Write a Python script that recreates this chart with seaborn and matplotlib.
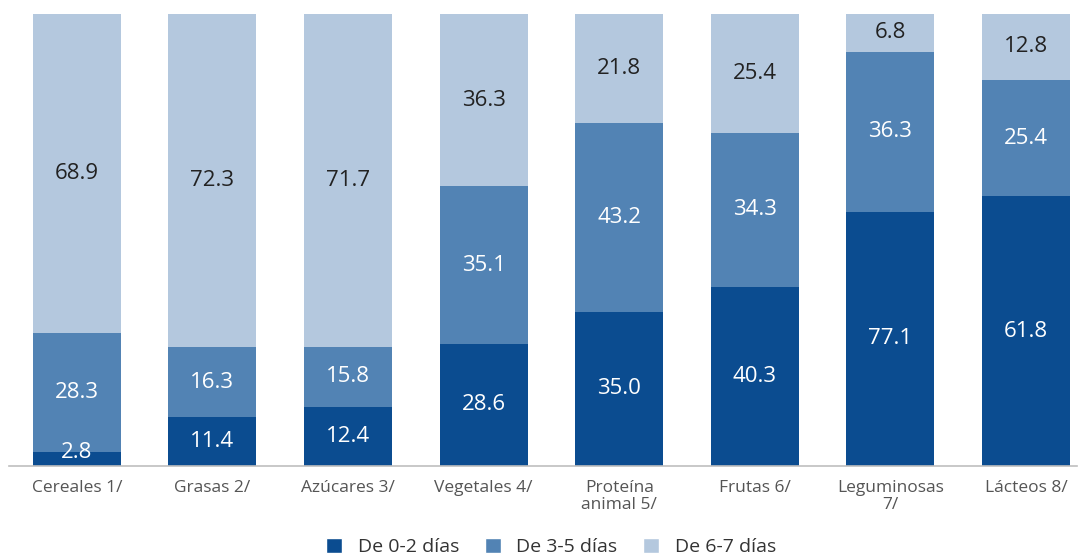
import numpy as np
import pandas as pd
import matplotlib
matplotlib.use("Agg")
import matplotlib.pyplot as plt
import seaborn as sns
from matplotlib.patches import Patch

# Data
categories = ["Cereales 1/", "Grasas 2/", "Azúcares 3/", "Vegetales 4/",
              "Proteína\nanimal 5/", "Frutas 6/", "Leguminosas\n7/", "Lácteos 8/"]
# segment sizes as drawn in the picture (% of bar height)
dias_0_2 = [3.1, 10.8, 13.1, 27.0, 34.1, 39.6, 56.2, 59.7]
dias_3_5 = [26.3, 15.5, 13.2, 34.9, 41.8, 34.1, 35.4, 25.7]
dias_6_7 = [70.6, 73.7, 73.7, 38.1, 24.1, 26.3, 8.4, 14.6]
# labels as printed on the bars
labels_0_2 = ["2.8", "11.4", "12.4", "28.6", "35.0", "40.3", "77.1", "61.8"]
labels_3_5 = ["28.3", "16.3", "15.8", "35.1", "43.2", "34.3", "36.3", "25.4"]
labels_6_7 = ["68.9", "72.3", "71.7", "36.3", "21.8", "25.4", "6.8", "12.8"]
series = ["De 0-2 días", "De 3-5 días", "De 6-7 días"]
colors = ["#0b4c90", "#5283b4", "#b4c8de"]

df = pd.DataFrame({"cat": categories, "a": dias_0_2, "b": dias_3_5, "c": dias_6_7})
df["ab"] = df["a"] + df["b"]
df["abc"] = df["ab"] + df["c"]

sns.set_style("white")
plt.rcParams["font.family"] = ["Open Sans", "DejaVu Sans"]

fig = plt.figure(figsize=(10.81, 5.56), dpi=100)
# slot width ~135.6 px, first slot starts at x=9; axis runs to x=1077
slot = 135.6
left_px, right_px = 9, 1077
ax = fig.add_axes([left_px / 1081, 90 / 556, (right_px - left_px) / 1081, 452 / 556])

# stacked by overlapping cumulative bars
for col, c in zip(["abc", "ab", "a"], colors[::-1]):
    sns.barplot(data=df, x="cat", y=col, color=c, width=0.65, saturation=1,
                linewidth=0, edgecolor="none", ax=ax)

for i in range(len(categories)):
    y_a = max(df["a"][i] / 2, 3.0)
    ax.text(i, y_a, labels_0_2[i], ha="center", va="center",
            color="white", fontsize=16)
    ax.text(i, df["a"][i] + df["b"][i] / 2, labels_3_5[i], ha="center", va="center",
            color="white", fontsize=16)
    ax.text(i, df["ab"][i] + df["c"][i] / 2, labels_6_7[i], ha="center", va="center",
            color="#222222", fontsize=16)

ax.set_xlim(-0.5, -0.5 + (right_px - left_px) / slot)
ax.set_ylim(0, 100)
ax.set_xlabel("")
ax.set_ylabel("")
ax.set_yticks([])
for s in ["top", "right", "left"]:
    ax.spines[s].set_visible(False)
ax.spines["bottom"].set_color("#bfbfbf")
ax.spines["bottom"].set_linewidth(1.2)

ax.set_xticks(range(len(categories)))
ax.set_xticklabels(categories, fontsize=12.5, color="#555555", linespacing=1.1)
ax.tick_params(axis="x", which="major", length=0, pad=10)
ax.set_xticks(np.arange(-0.5, len(categories) - 0.5, 1.0), minor=True)
ax.tick_params(axis="x", which="minor", length=8, color="#bfbfbf", width=1.2, direction="out")

handles = [Patch(facecolor=c, label=s) for c, s in zip(colors, series)]
fig.legend(handles=handles, loc="center", bbox_to_anchor=(551 / 1081, 9 / 556), ncol=3,
           frameon=False, fontsize=14, handlelength=0.82, handleheight=0.85,
           columnspacing=1.3, handletextpad=0.82, labelcolor="#333333")

fig.savefig("out.png", dpi=100)
